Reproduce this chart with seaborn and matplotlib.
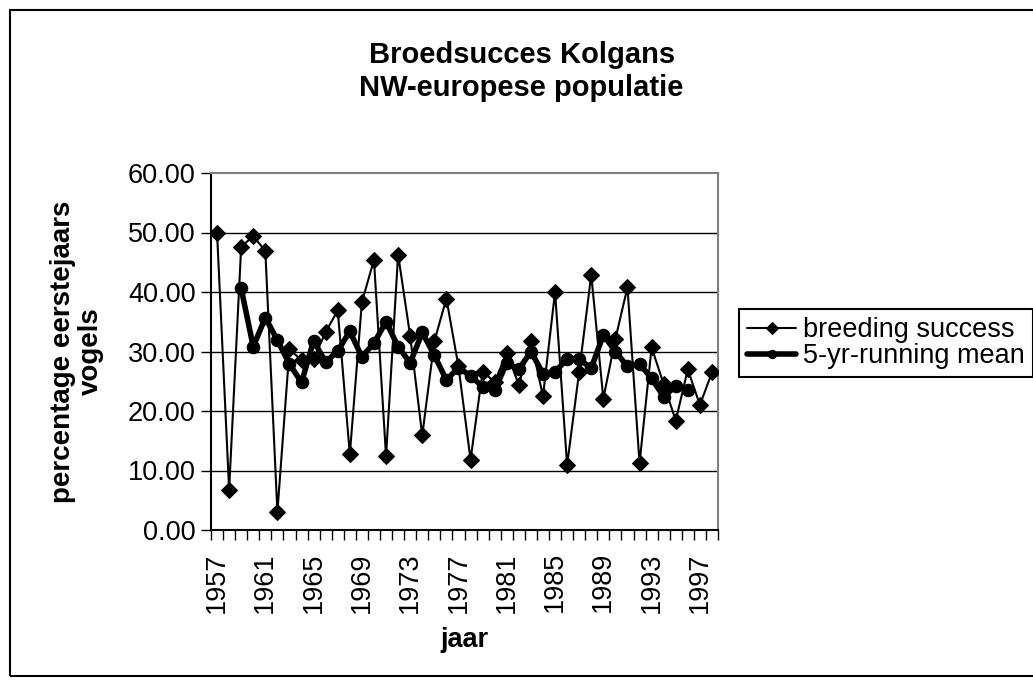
import numpy as np
import pandas as pd
import matplotlib
matplotlib.use("Agg")
import matplotlib.pyplot as plt
from matplotlib.patches import Rectangle
from matplotlib.ticker import FixedLocator, FuncFormatter
import seaborn as sns

# values
years = list(range(1957, 1999))
breeding_success = [50.0, 6.8, 47.6, 49.4, 46.9, 3.0, 30.4, 28.5, 28.7, 33.3,
                    36.9, 12.7, 38.3, 45.4, 12.4, 46.3, 32.6, 15.9, 31.7, 38.9,
                    27.5, 11.8, 26.6, 24.9, 29.8, 24.4, 31.8, 22.5, 40.0, 10.9,
                    26.6, 42.9, 22.1, 32.1, 40.8, 11.2, 30.7, 24.5, 18.4, 27.0,
                    21.0, 26.5]
# 5-yr running mean, only 1959..1996 present
running_mean = [np.nan, np.nan,
                40.6, 30.8, 35.7, 31.9, 27.9, 24.8, 31.8, 28.2, 30.1, 33.4,
                29.1, 31.4, 35.0, 30.8, 28.1, 33.2, 29.4, 25.2, 27.3, 25.9,
                24.1, 23.5, 28.1, 27.0, 30.0, 26.3, 26.6, 28.7, 28.7, 27.2,
                32.8, 30.0, 27.5, 27.9, 25.5, 22.4, 24.2, 23.5,
                np.nan, np.nan]
year_labels = [str(y) for y in years]

df = pd.DataFrame({
    "idx": np.arange(len(years)),
    "breeding success": breeding_success,
    "5-yr-running mean": running_mean,
})

sns.set_theme(style="white")
plt.rcParams["font.family"] = ["Liberation Sans", "DejaVu Sans"]
plt.rcParams["text.color"] = "black"
plt.rcParams["axes.labelcolor"] = "black"
plt.rcParams["xtick.color"] = "black"
plt.rcParams["ytick.color"] = "black"

FS = 19.5

fig = plt.figure(figsize=(10.33, 6.88), dpi=100)
ax = fig.add_axes([211 / 1033, 1 - 530 / 688, (718 - 211) / 1033, (530 - 173) / 688])

# outer chart border
fig.patches.append(Rectangle((10 / 1033, 12 / 688), 1.2, (676 - 10) / 688,
                             transform=fig.transFigure, fill=False,
                             edgecolor="black", linewidth=1.5))

for v in [10, 20, 30, 40, 50]:
    ax.axhline(v, color="black", linewidth=1, zorder=1)

sns.lineplot(data=df, x="idx", y="breeding success", ax=ax, color="black",
             linewidth=1.5, marker="D", markersize=8, markeredgecolor="black",
             label="breeding success", zorder=3)
sns.lineplot(data=df.dropna(), x="idx", y="5-yr-running mean", ax=ax,
             color="black", linewidth=4, marker="o", markersize=9,
             markeredgecolor="black", label="5-yr-running mean", zorder=4)

ax.set_xlim(-0.5, len(years) - 0.5)
ax.set_ylim(0, 60)
ax.set_yticks([0, 10, 20, 30, 40, 50, 60])
ax.yaxis.set_major_formatter(FuncFormatter(lambda v, p: f"{v:.2f}"))
ax.tick_params(axis="y", labelsize=FS, length=7, width=1, color="black",
               direction="out", left=True, pad=4)

label_idx = list(range(0, len(years), 4))
ax.xaxis.set_major_locator(FixedLocator(label_idx))
ax.set_xticklabels([year_labels[i] for i in label_idx], rotation=90, fontsize=FS)
ax.xaxis.set_minor_locator(FixedLocator(np.arange(-0.5, len(years), 1.0)))
ax.tick_params(axis="x", which="major", length=0, pad=16)
ax.tick_params(axis="x", which="minor", length=7, width=1, color="black",
               direction="out", bottom=True)

for side in ["left", "bottom"]:
    ax.spines[side].set_color("black")
    ax.spines[side].set_linewidth(1.5)
for side in ["top", "right"]:
    ax.spines[side].set_color("#808080")
    ax.spines[side].set_linewidth(1.5)

ax.set_xlabel("jaar", fontsize=FS, fontweight="bold", labelpad=10)
ax.set_ylabel("percentage eerstejaars\nvogels", fontsize=20, fontweight="bold",
              labelpad=17, linespacing=1.1)

fig.text(0.505, 0.896, "Broedsucces Kolgans\nNW-europese populatie",
         ha="center", va="center", fontsize=21, fontweight="bold", linespacing=1.2)

leg = ax.legend(loc="upper left", bbox_to_anchor=(739 / 1033, 1 - 309 / 688),
                bbox_transform=fig.transFigure, fontsize=19.5, frameon=True,
                fancybox=False, edgecolor="black", framealpha=1,
                handlelength=1.8, handletextpad=0.25, borderpad=0.3,
                labelspacing=0.0, borderaxespad=0)
leg.get_frame().set_linewidth(1.5)
for h in leg.legend_handles:
    h.set_markersize(6)

fig.savefig("out.png", dpi=100)
